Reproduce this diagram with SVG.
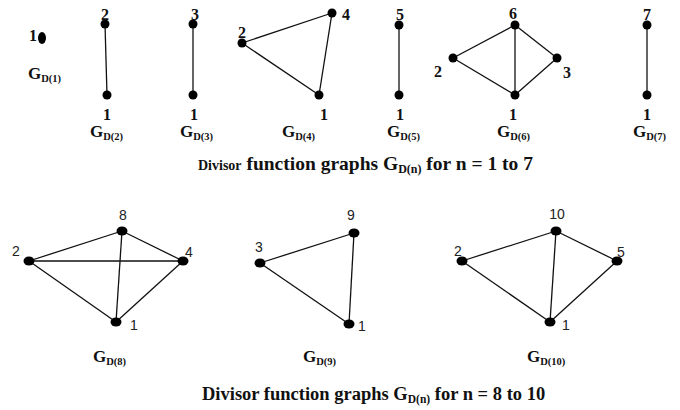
<svg xmlns="http://www.w3.org/2000/svg" width="680" height="410" viewBox="0 0 680 410">
<style>
.e{stroke:#111;stroke-width:1.3;fill:none}
.d{fill:#000}
.t{font-family:"Liberation Serif",serif;font-weight:bold;font-size:16px;fill:#111}
.s{font-family:"Liberation Sans",sans-serif;font-size:14px;fill:#222}
.g{font-family:"Liberation Serif",serif;font-weight:bold;font-size:17px;fill:#111}
.sub{font-size:10.5px}
.c{font-family:"Liberation Serif",serif;font-weight:bold;fill:#111}
</style>
<rect width="680" height="410" fill="#fff"/>
<g id="connectors">
<line class="e" x1="105" y1="24" x2="107" y2="95"/>
<line class="e" x1="193" y1="24" x2="193" y2="95"/>
<line class="e" x1="242" y1="43" x2="332" y2="13"/>
<line class="e" x1="242" y1="43" x2="319" y2="95"/>
<line class="e" x1="332" y1="13" x2="319" y2="95"/>
<line class="e" x1="399" y1="25" x2="399" y2="95"/>
<line class="e" x1="453" y1="58" x2="515" y2="25"/>
<line class="e" x1="453" y1="58" x2="515" y2="95"/>
<line class="e" x1="515" y1="25" x2="515" y2="95"/>
<line class="e" x1="515" y1="25" x2="557" y2="58"/>
<line class="e" x1="557" y1="58" x2="515" y2="95"/>
<line class="e" x1="647" y1="25" x2="647" y2="95"/>
<line class="e" x1="29" y1="261" x2="122" y2="231"/>
<line class="e" x1="122" y1="231" x2="183" y2="261"/>
<line class="e" x1="29" y1="261" x2="183" y2="261"/>
<line class="e" x1="122" y1="231" x2="116" y2="322"/>
<line class="e" x1="29" y1="261" x2="116" y2="322"/>
<line class="e" x1="183" y1="261" x2="116" y2="322"/>
<line class="e" x1="260" y1="263" x2="354" y2="233"/>
<line class="e" x1="260" y1="263" x2="349" y2="324"/>
<line class="e" x1="354" y1="233" x2="349" y2="324"/>
<line class="e" x1="462" y1="261" x2="556" y2="231"/>
<line class="e" x1="462" y1="261" x2="550" y2="322"/>
<line class="e" x1="556" y1="231" x2="550" y2="322"/>
<line class="e" x1="556" y1="231" x2="617" y2="261"/>
<line class="e" x1="617" y1="261" x2="550" y2="322"/>
</g>
<g id="g1">
<ellipse class="d" cx="42" cy="38" rx="4" ry="6"/>
<text class="t" x="29" y="41">1</text>
<text class="g" x="28" y="79">G<tspan class="sub" dy="3">D(1)</tspan></text>
</g>
<g id="g2">
<circle class="d" cx="105" cy="24" r="4.5"/>
<circle class="d" cx="107" cy="95" r="4.5"/>
<text class="t" x="105" y="20" text-anchor="middle">2</text>
<text class="t" x="107" y="120" text-anchor="middle">1</text>
<text class="g" x="90" y="137">G<tspan class="sub" dy="3">D(2)</tspan></text>
</g>
<g id="g3">
<circle class="d" cx="193" cy="24" r="4.5"/>
<circle class="d" cx="193" cy="95" r="4.5"/>
<text class="t" x="195" y="20" text-anchor="middle">3</text>
<text class="t" x="194" y="120" text-anchor="middle">1</text>
<text class="g" x="180" y="137">G<tspan class="sub" dy="3">D(3)</tspan></text>
</g>
<g id="g4">
<circle class="d" cx="332" cy="13" r="4.5"/>
<circle class="d" cx="242" cy="43" r="4.5"/>
<circle class="d" cx="319" cy="95" r="4.5"/>
<text class="t" x="342" y="20">4</text>
<text class="t" x="238" y="38">2</text>
<text class="t" x="320" y="120">1</text>
<text class="g" x="282" y="137">G<tspan class="sub" dy="3">D(4)</tspan></text>
</g>
<g id="g5">
<circle class="d" cx="399" cy="25" r="4.5"/>
<circle class="d" cx="399" cy="95" r="4.5"/>
<text class="t" x="400" y="20" text-anchor="middle">5</text>
<text class="t" x="400" y="120" text-anchor="middle">1</text>
<text class="g" x="387" y="137">G<tspan class="sub" dy="3">D(5)</tspan></text>
</g>
<g id="g6">
<circle class="d" cx="515" cy="25" r="4.5"/>
<circle class="d" cx="453" cy="58" r="4.5"/>
<circle class="d" cx="557" cy="58" r="4.5"/>
<circle class="d" cx="515" cy="95" r="4.5"/>
<text class="t" x="513" y="19" text-anchor="middle">6</text>
<text class="t" x="434" y="77">2</text>
<text class="t" x="563" y="78">3</text>
<text class="t" x="513" y="120" text-anchor="middle">1</text>
<text class="g" x="497" y="137">G<tspan class="sub" dy="3">D(6)</tspan></text>
</g>
<g id="g7">
<circle class="d" cx="647" cy="25" r="4.5"/>
<circle class="d" cx="647" cy="95" r="4.5"/>
<text class="t" x="647" y="20" text-anchor="middle">7</text>
<text class="t" x="647" y="120" text-anchor="middle">1</text>
<text class="g" x="633" y="137">G<tspan class="sub" dy="3">D(7)</tspan></text>
</g>
<text id="caption1" class="c" x="198" y="170" font-size="19.5"><tspan font-size="14">Divisor</tspan> function graphs G<tspan font-size="12" dy="3">D(n)</tspan><tspan dy="-3"> for n = 1 to 7</tspan></text>
<g id="g8">
<ellipse class="d" cx="122" cy="231" rx="5.5" ry="4.5"/>
<ellipse class="d" cx="29" cy="261" rx="5.5" ry="4.5"/>
<ellipse class="d" cx="183" cy="261" rx="5.5" ry="4.5"/>
<ellipse class="d" cx="116" cy="322" rx="5.5" ry="4.5"/>
<text class="s" x="123" y="220" text-anchor="middle">8</text>
<text class="s" x="12" y="256">2</text>
<text class="s" x="185" y="257">4</text>
<text class="s" x="130" y="330">1</text>
<text class="g" x="93" y="362">G<tspan class="sub" dy="3">D(8)</tspan></text>
</g>
<g id="g9">
<ellipse class="d" cx="354" cy="233" rx="5.5" ry="4.5"/>
<ellipse class="d" cx="260" cy="263" rx="5.5" ry="4.5"/>
<ellipse class="d" cx="349" cy="324" rx="5.5" ry="4.5"/>
<text class="s" x="351" y="220" text-anchor="middle">9</text>
<text class="s" x="259" y="252" text-anchor="middle">3</text>
<text class="s" x="358" y="331">1</text>
<text class="g" x="303" y="362">G<tspan class="sub" dy="3">D(9)</tspan></text>
</g>
<g id="g10">
<ellipse class="d" cx="556" cy="231" rx="5.5" ry="4.5"/>
<ellipse class="d" cx="462" cy="261" rx="5.5" ry="4.5"/>
<ellipse class="d" cx="617" cy="261" rx="5.5" ry="4.5"/>
<ellipse class="d" cx="550" cy="322" rx="5.5" ry="4.5"/>
<text class="s" x="557" y="219" text-anchor="middle">10</text>
<text class="s" x="458" y="256" text-anchor="middle">2</text>
<text class="s" x="621" y="257" text-anchor="middle">5</text>
<text class="s" x="562" y="330">1</text>
<text class="g" x="527" y="362">G<tspan class="sub" dy="3">D(10)</tspan></text>
</g>
<text id="caption2" class="c" x="202" y="400" font-size="18.5">Divisor function graphs G<tspan font-size="11.5" dy="3">D(n)</tspan><tspan dy="-3"> for n = 8 to 10</tspan></text>
</svg>
